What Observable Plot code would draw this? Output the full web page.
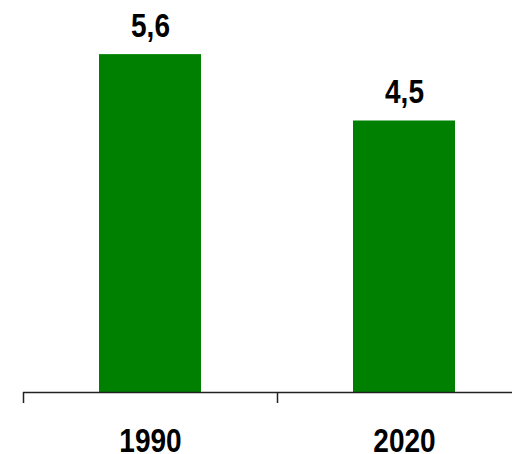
<!DOCTYPE html>
<html>
<head>
<meta charset="utf-8">
<script src="https://cdn.jsdelivr.net/npm/d3@7"></script>
<script src="https://cdn.jsdelivr.net/npm/@observablehq/plot@0.6"></script>
<style>
  html, body { margin: 0; padding: 0; background: #fff; }
  #chart svg { display: block; }
</style>
</head>
<body>
<div id="chart"></div>
<script>
const years = ["1990", "2020"];
const values = [5.6, 4.5];

const data = years.map((year, i) => ({year, value: values[i]}));
const fmt = v => v.toFixed(1).replace(".", ",");
const font = "'Liberation Sans', Arial, sans-serif";

const chart = Plot.plot({
  width: 512,
  height: 454,
  marginTop: 30,
  marginBottom: 62,
  marginLeft: 23,
  marginRight: 0,
  style: {fontFamily: font, background: "#fff"},
  x: {type: "band", domain: years, range: [23, 531], paddingInner: 0.6, paddingOuter: 0.3, axis: null, label: null},
  y: {domain: [0, 6], axis: null},
  marks: [
    Plot.barY(data, {x: "year", y: "value", fill: "#008000"}),
    Plot.ruleY([0], {stroke: "#222", strokeWidth: 1.5}),
    Plot.axisX({tickSize: 11, tickFormat: () => "", label: null, dx: -127, stroke: "#222", strokeWidth: 1.5}),
    Plot.text(data, {x: "year", y: "value", text: d => fmt(d.value), dy: -28, lineAnchor: "middle", fontSize: 28, fontWeight: "bold", fill: "#000"}),
    Plot.text(years, {x: d => d, frameAnchor: "bottom", dy: 49, lineAnchor: "middle", fontSize: 28, fontWeight: "bold", fill: "#000"})
  ]
});
// slightly condensed look of the original lettering: stretch text vertically
d3.select(chart).selectAll('g[aria-label="text"] text').each(function() {
  const t = this.getAttribute("transform") || "";
  this.setAttribute("transform", t + " scale(1,1.17)");
});
document.getElementById("chart").appendChild(chart);
</script>
</body>
</html>
